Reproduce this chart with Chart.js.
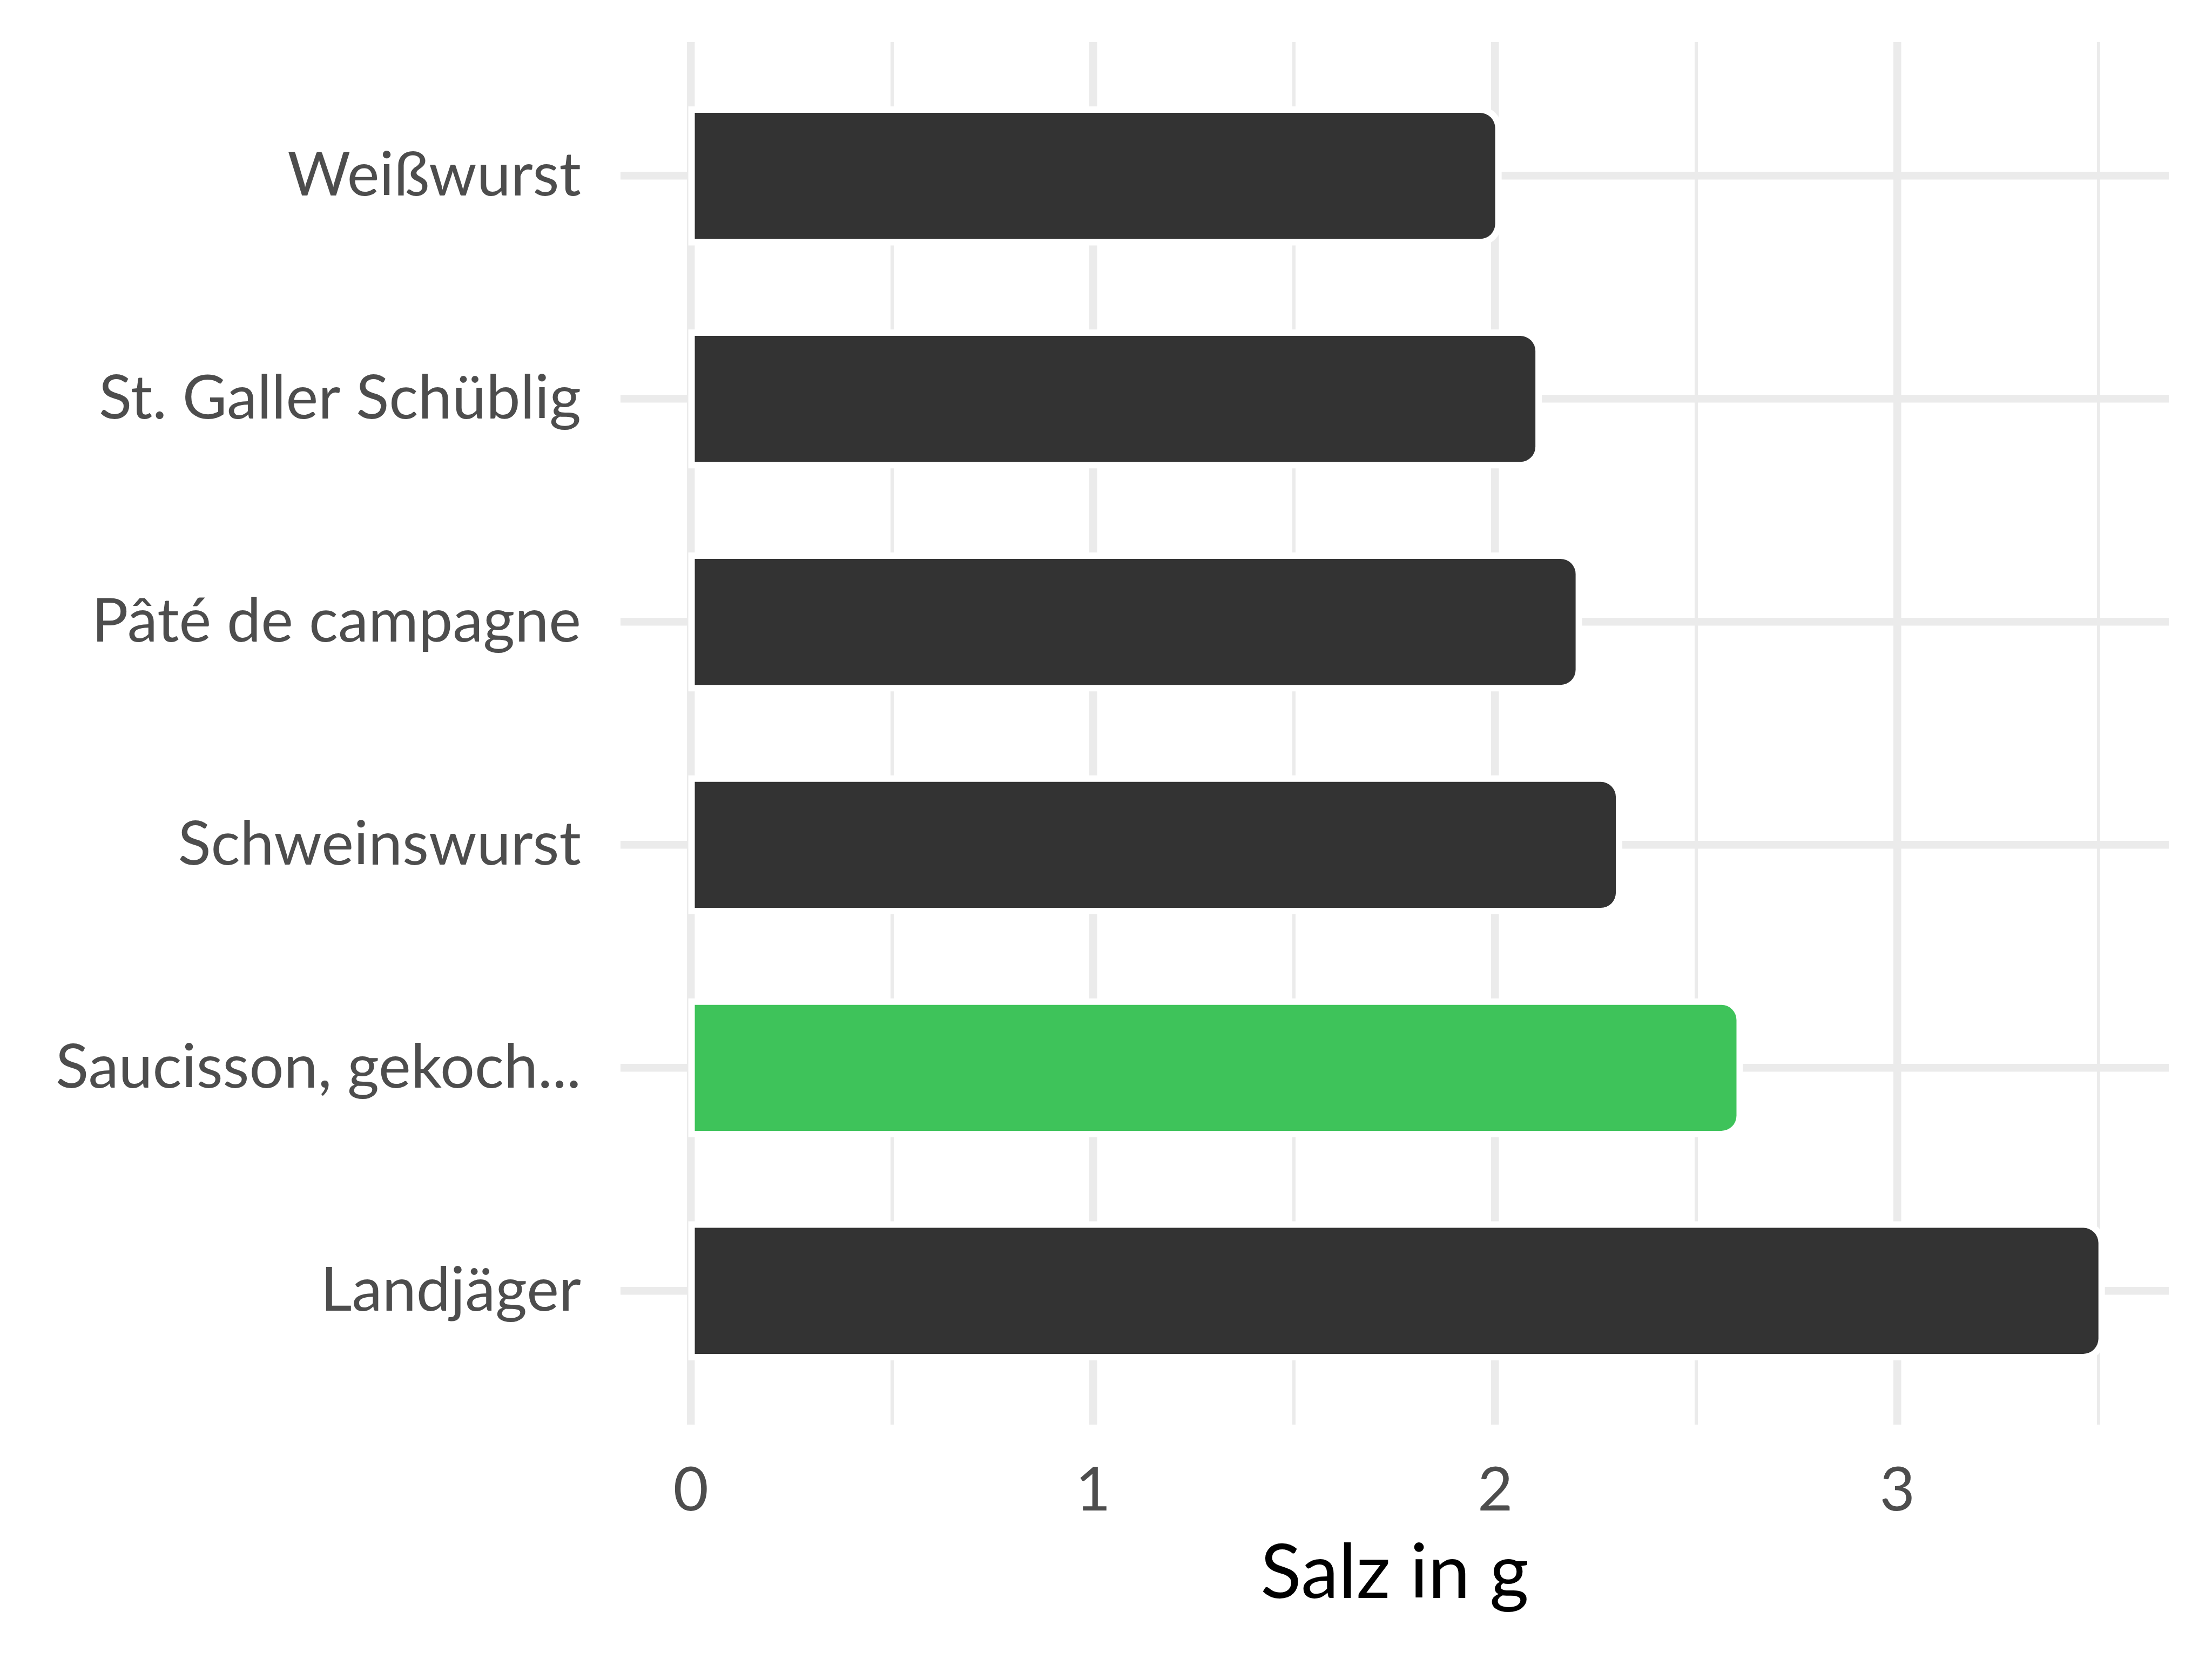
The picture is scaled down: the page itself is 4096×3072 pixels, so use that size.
<!DOCTYPE html>
<html>
<head>
<meta charset="utf-8">
<script src="https://cdn.jsdelivr.net/npm/chart.js@4/dist/chart.umd.min.js"></script>
<style>
html,body{margin:0;padding:0;background:#fff;}
#c{display:block;}
</style>
</head>
<body>
<canvas id="c" width="4096" height="3072"></canvas>
<script>
const categories = ["Weißwurst", "St. Galler Schüblig", "Pâté de campagne", "Schweinswurst", "Saucisson, gekoch...", "Landjäger"];
const salt = [2.0, 2.1, 2.2, 2.3, 2.6, 3.5];
const highlighted = "Saucisson, gekoch...";
const xTicks = [0, 0.5, 1, 1.5, 2, 2.5, 3, 3.5];
const xTitle = "Salz in g";

const FONT = "Lato";
const barColors = categories.map(c => c === highlighted ? "#3EC35A" : "#333333");
const points = categories.map((c, i) => ({x: salt[i], y: i + 1}));

const halo = {
  id: 'halo',
  beforeDatasetsDraw(chart) {
    const ctx = chart.ctx;
    const meta = chart.getDatasetMeta(0);
    const g = 12, r = 28;
    ctx.save();
    ctx.fillStyle = '#ffffff';
    meta.data.forEach(el => {
      const p = el.getProps(['x', 'y', 'base', 'height'], true);
      const x0 = Math.min(p.base, p.x) - g, x1 = Math.max(p.base, p.x) + g;
      const y0 = p.y - p.height / 2 - g, y1 = p.y + p.height / 2 + g;
      ctx.beginPath();
      ctx.roundRect(x0, y0, x1 - x0, y1 - y0, [0, r + g, r + g, 0]);
      ctx.fill();
    });
    ctx.restore();
  }
};

const zeroPad = s => { s.paddingTop = 0; s.paddingBottom = 0; s.paddingLeft = 0; s.paddingRight = 0; };

new Chart(document.getElementById('c'), {
  type: 'bar',
  data: {
    datasets: [{
      data: points,
      backgroundColor: barColors,
      borderWidth: 0,
      borderRadius: 28,
      borderSkipped: 'start',
      barPercentage: 0.565,
      categoryPercentage: 1
    }]
  },
  options: {
    indexAxis: 'y',
    responsive: false,
    devicePixelRatio: 1,
    animation: false,
    layout: {padding: {top: 78, right: 80, left: 0, bottom: 0}},
    plugins: {legend: {display: false}, tooltip: {enabled: false}},
    scales: {
      x: {
        type: 'linear',
        min: -0.175,
        max: 3.675,
        offset: false,
        afterBuildTicks: s => { s.ticks = xTicks.map(v => ({value: v})); },
        afterFit: s => { s.height = 434; zeroPad(s); },
        border: {display: false},
        grid: {
          offset: false,
          color: '#EBEBEB',
          drawTicks: false,
          lineWidth: ctx => (ctx.tick && Number.isInteger(ctx.tick.value)) ? 14.5 : 6
        },
        ticks: {
          autoSkip: false,
          maxRotation: 0,
          padding: 55,
          color: '#4D4D4D',
          font: {family: FONT, size: 113},
          callback: v => Number.isInteger(v) ? String(v) : ''
        },
        title: {
          display: true,
          text: xTitle,
          color: '#000000',
          font: {family: FONT, size: 140},
          padding: {top: 0, bottom: 74}
        }
      },
      y: {
        type: 'linear',
        reverse: true,
        min: 0.4,
        max: 6.6,
        offset: false,
        afterBuildTicks: s => { s.ticks = categories.map((c, i) => ({value: i + 1})); },
        afterFit: s => { s.width = 1149; zeroPad(s); },
        border: {display: false},
        grid: {offset: false, color: '#EBEBEB', drawTicks: false, lineWidth: 14.5},
        ticks: {
          autoSkip: false,
          padding: 73,
          color: '#4D4D4D',
          font: {family: FONT, size: 113},
          callback: v => categories[v - 1]
        }
      }
    }
  },
  plugins: [halo]
});
</script>
</body>
</html>
